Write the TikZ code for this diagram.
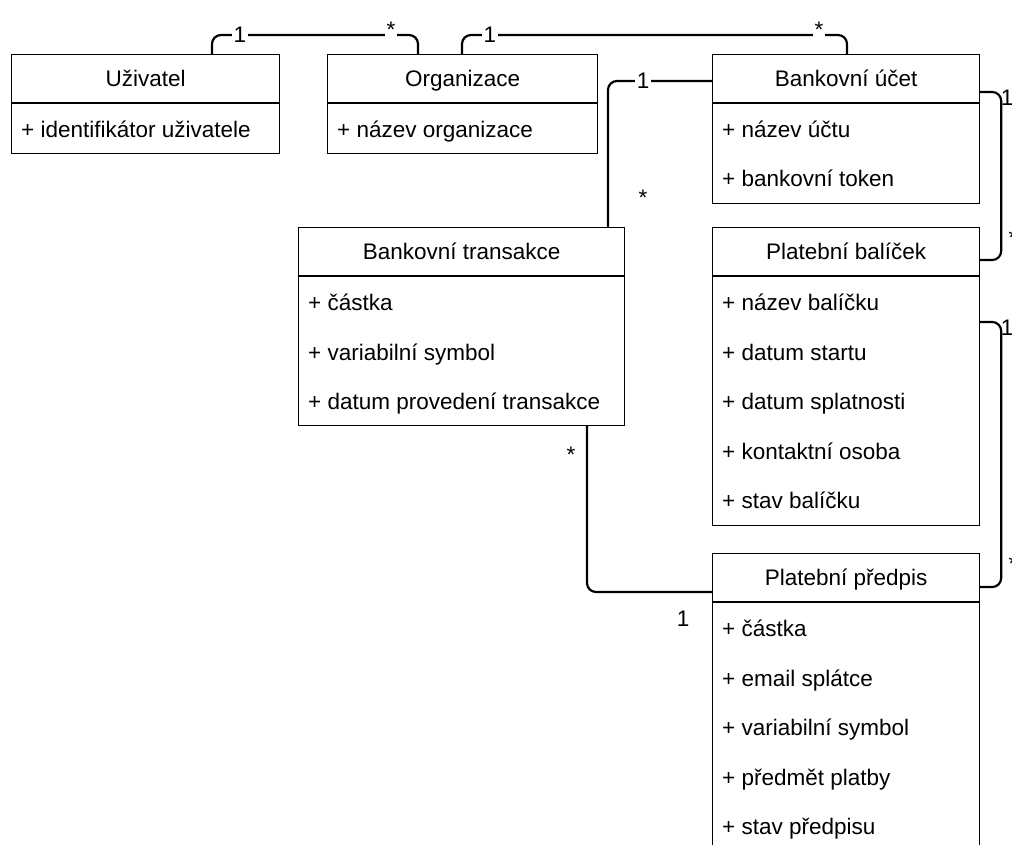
\documentclass[tikz,border=0pt]{standalone}
\usepackage{fontspec}
\setmainfont{Liberation Sans}
\begin{document}
\begin{tikzpicture}[x=1pt,y=-1pt,
  fnt/.style={font=\fontsize{22.5}{27}\selectfont},
  cls/.style={draw=black, line width=1.2pt, anchor=north west, inner sep=0pt, fill=white},
  divl/.style={line width=1.2pt},
  hdr/.style={fnt, anchor=base, inner sep=0pt},
  attr/.style={fnt, anchor=base west, inner sep=0pt},
  conn/.style={line width=2.2pt, rounded corners=9pt},
  lbl/.style={fnt, fill=white, inner sep=2pt, anchor=base},
  plain/.style={fnt, inner sep=0pt, anchor=base},
]
\useasboundingbox (0,0) rectangle (1012,845);

% ---------- classes ----------
\node[cls, minimum width=268pt, minimum height=99pt] (uz) at (11,54) {};
\draw[divl] ([yshift=-49pt]uz.north west) -- ([yshift=-49pt]uz.north east);
\node[hdr] (uzh) at ([yshift=-32.5pt]uz.north) {Uživatel};
\node[attr] (uza1) at ([xshift=10pt,yshift=-83.5pt]uz.north west) {+ identifikátor uživatele};

\node[cls, minimum width=270pt, minimum height=99pt] (org) at (327,54) {};
\draw[divl] ([yshift=-49pt]org.north west) -- ([yshift=-49pt]org.north east);
\node[hdr] (orgh) at ([yshift=-32.5pt]org.north) {Organizace};
\node[attr] (orga1) at ([xshift=10pt,yshift=-83.5pt]org.north west) {+ název organizace};

\node[cls, minimum width=267pt, minimum height=149pt] (uc) at (712,54) {};
\draw[divl] ([yshift=-49pt]uc.north west) -- ([yshift=-49pt]uc.north east);
\node[hdr] (uch) at ([yshift=-32.5pt]uc.north) {Bankovní účet};
\node[attr] (uca1) at ([xshift=10pt,yshift=-83.5pt]uc.north west) {+ název účtu};
\node[attr] (uca2) at ([xshift=10pt,yshift=-133pt]uc.north west) {+ bankovní token};

\node[cls, minimum width=326pt, minimum height=198pt] (bt) at (298,227) {};
\draw[divl] ([yshift=-49pt]bt.north west) -- ([yshift=-49pt]bt.north east);
\node[hdr] (bth) at ([yshift=-32.5pt]bt.north) {Bankovní transakce};
\node[attr] (bta1) at ([xshift=10pt,yshift=-83.5pt]bt.north west) {+ částka};
\node[attr] (bta2) at ([xshift=10pt,yshift=-133pt]bt.north west) {+ variabilní symbol};
\node[attr] (bta3) at ([xshift=10pt,yshift=-182.5pt]bt.north west) {+ datum provedení transakce};

\node[cls, minimum width=267pt, minimum height=298pt] (pb) at (712,227) {};
\draw[divl] ([yshift=-49pt]pb.north west) -- ([yshift=-49pt]pb.north east);
\node[hdr] (pbh) at ([yshift=-32.5pt]pb.north) {Platební balíček};
\node[attr] (pba1) at ([xshift=10pt,yshift=-83.5pt]pb.north west) {+ název balíčku};
\node[attr] (pba2) at ([xshift=10pt,yshift=-133pt]pb.north west) {+ datum startu};
\node[attr] (pba3) at ([xshift=10pt,yshift=-182.5pt]pb.north west) {+ datum splatnosti};
\node[attr] (pba4) at ([xshift=10pt,yshift=-232pt]pb.north west) {+ kontaktní osoba};
\node[attr] (pba5) at ([xshift=10pt,yshift=-281.5pt]pb.north west) {+ stav balíčku};

\node[cls, minimum width=267pt, minimum height=299pt] (pp) at (712,553) {};
\draw[divl] ([yshift=-49pt]pp.north west) -- ([yshift=-49pt]pp.north east);
\node[hdr] (pph) at ([yshift=-32.5pt]pp.north) {Platební předpis};
\node[attr] (ppa1) at ([xshift=10pt,yshift=-83.5pt]pp.north west) {+ částka};
\node[attr] (ppa2) at ([xshift=10pt,yshift=-133pt]pp.north west) {+ email splátce};
\node[attr] (ppa3) at ([xshift=10pt,yshift=-182.5pt]pp.north west) {+ variabilní symbol};
\node[attr] (ppa4) at ([xshift=10pt,yshift=-232pt]pp.north west) {+ předmět platby};
\node[attr] (ppa5) at ([xshift=10pt,yshift=-281.5pt]pp.north west) {+ stav předpisu};

% ---------- connectors ----------
\draw[conn] ([xshift=201pt]uz.north west) -- ++(0,-19) -| ([xshift=91pt]org.north west);
\draw[conn] ([xshift=135pt]org.north west) -- ++(0,-19) -| ([xshift=135pt]uc.north west);
\draw[conn] ([yshift=-27pt]uc.north west) -| ([xshift=310pt]bt.north west);
\draw[conn] ([xshift=289pt]bt.south west) |- ([yshift=-39pt]pp.north west);
\draw[conn] ([yshift=-38pt]uc.north east) -- ++(21,0) |- ([yshift=-33pt]pb.north east);
\draw[conn] ([yshift=-95pt]pb.north east) -- ++(21,0) |- ([yshift=-34pt]pp.north east);

% ---------- multiplicities ----------
\node[lbl] (m1a) at (240,43) {1};
\node[lbl] (m1b) at (391,38) {*};
\node[lbl] (m2a) at (490,43) {1};
\node[lbl] (m2b) at (819,38) {*};
\node[lbl] (m3a) at (643,89) {1};
\node[plain] (m3b) at (643,206) {*};
\node[plain] (m4a) at (571,462) {*};
\node[plain] (m4b) at (683,626) {1};
\node[plain] (m5a) at (1007,106) {1};
\node[plain] (m5b) at (1013,246) {*};
\node[plain] (m6a) at (1007,335) {1};
\node[plain] (m6b) at (1013,571) {*};
\end{tikzpicture}
\end{document}
